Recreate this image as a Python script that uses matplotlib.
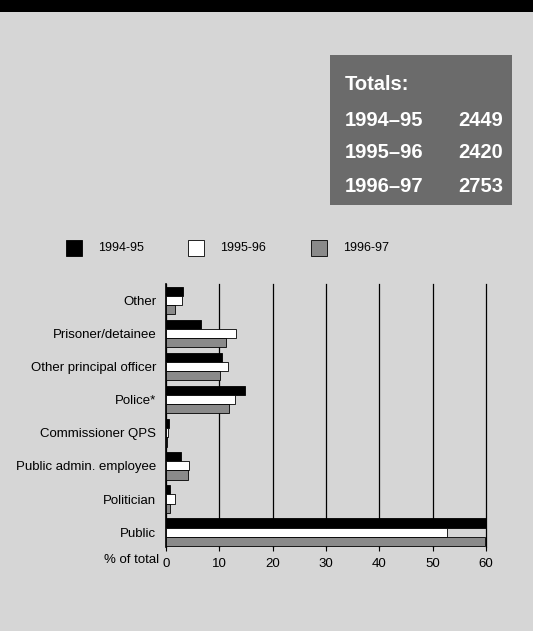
import matplotlib
matplotlib.use("Agg")
import matplotlib.pyplot as plt
from matplotlib.patches import Rectangle
import numpy as np

plt.rcParams["font.family"] = ["Liberation Sans", "DejaVu Sans"]

categories = ["Other", "Prisoner/detainee", "Other principal officer", "Police*",
              "Commissioner QPS", "Public admin. employee", "Politician", "Public"]
series_names = ["1994-95", "1995-96", "1996-97"]
pct_9495 = [3.2, 6.5, 10.5, 14.9, 0.5, 2.8, 0.8, 60.0]
pct_9596 = [3.0, 13.1, 11.6, 12.9, 0.3, 4.3, 1.6, 52.6]
pct_9697 = [1.6, 11.3, 10.1, 11.9, 0.2, 4.2, 0.7, 59.9]
total_years = ["1994\u201395", "1995\u201396", "1996\u201397"]
totals = [2449, 2420, 2753]
x_ticks = [0, 10, 20, 30, 40, 50, 60]

W, H = 533, 631
BG = "#d6d6d6"
fills = ["#000000", "#ffffff", "#8a8a8a"]

fig = plt.figure(figsize=(W / 100, H / 100), dpi=100, facecolor=BG)


def px(x, y):
    # pixel position from top-left -> figure fraction
    return x / W, 1 - y / H


# black heading strip
fig.add_artist(Rectangle(px(0, 12), 1, 12 / H, transform=fig.transFigure,
                         facecolor="black", edgecolor="none"))

# totals panel
fig.add_artist(Rectangle(px(330, 205), 182 / W, 150 / H, transform=fig.transFigure,
                         facecolor="#6b6b6b", edgecolor="none"))
fig.text(*px(345, 85), "Totals:", color="white", fontsize=14.5, fontweight="bold",
         ha="left", va="center")
for i, (yr, tot) in enumerate(zip(total_years, totals)):
    yy = 120 + i * 33
    fig.text(*px(345, yy), yr, color="white", fontsize=14.5, fontweight="bold",
             ha="left", va="center")
    fig.text(*px(503, yy), str(tot), color="white", fontsize=14.5, fontweight="bold",
             ha="right", va="center")

# legend swatches
legend_x = [66, 188, 311]
for lx, name, fc in zip(legend_x, series_names, fills):
    fig.add_artist(Rectangle(px(lx, 256), 16 / W, 16 / H, transform=fig.transFigure,
                             facecolor=fc, edgecolor="black", linewidth=0.6))
    fig.text(*px(lx + 32, 248), name, fontsize=9, ha="left", va="center")

# bar chart
ax = fig.add_axes([166 / W, 1 - 547 / H, 320 / W, 263 / H])
ax.set_facecolor("none")
y = np.arange(len(categories))
h = 0.275
for k, (vals, fc) in enumerate(zip([pct_9495, pct_9596, pct_9697], fills)):
    ax.barh(y + (k - 1) * h, vals, height=h, color=fc, edgecolor="black",
            linewidth=0.6, zorder=3)

ax.set_xlim(0, 60)
ax.set_ylim(7.45, -0.5)
ax.set_xticks(x_ticks)
ax.set_xticklabels([str(t) for t in x_ticks], fontsize=9.5)
ax.set_yticks(y)
ax.set_yticklabels(categories, fontsize=9.5)
ax.tick_params(axis="y", length=0, pad=7)
ax.tick_params(axis="x", length=3, width=0.8, pad=5, direction="out")
ax.grid(axis="x", color="black", linewidth=0.9, zorder=0)
for gl in ax.get_xgridlines():
    gl.set_clip_on(False)
ax.set_axisbelow(True)
for s in ["top", "right", "bottom"]:
    ax.spines[s].set_visible(False)
ax.spines["left"].set_linewidth(1.2)

fig.text(*px(159, 560), "% of total", fontsize=9.5, ha="right", va="center")

fig.savefig("out.png", dpi=100, facecolor=BG)
